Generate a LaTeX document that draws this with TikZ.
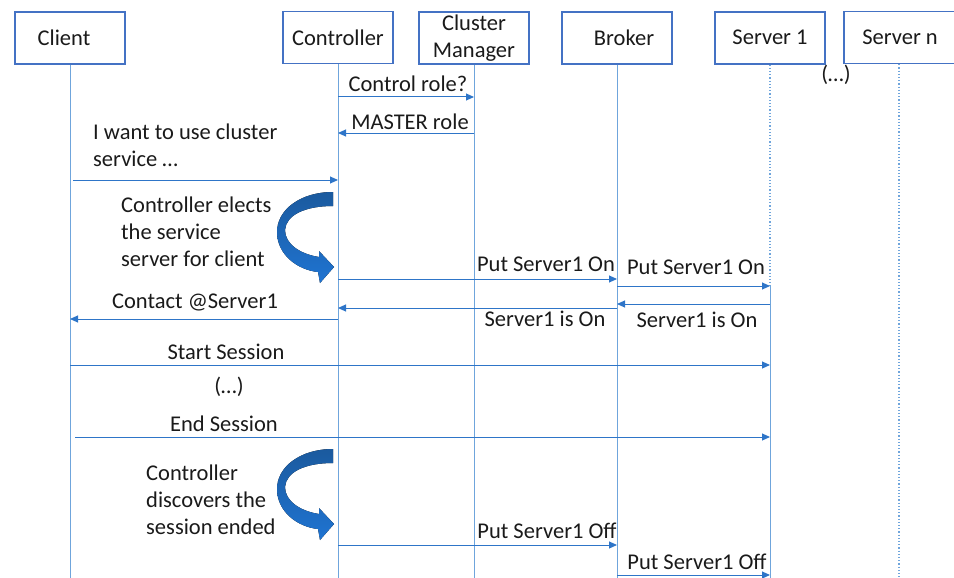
\documentclass[tikz,border=0pt]{standalone}
\usepackage{fontspec}
\setmainfont{Carlito}
\usetikzlibrary{arrows.meta}
\definecolor{boxblue}{HTML}{4472C4}
\definecolor{lifeblue}{HTML}{6FA5DC}
\definecolor{msgblue}{HTML}{2E75C8}
\definecolor{bendtop}{HTML}{1B5A9E}
\definecolor{bendbot}{HTML}{1F74D2}
\definecolor{inktext}{HTML}{1A1A1A}

\tikzset{
  bendarrow/.pic={
    \fill[top color=bendtop, bottom color=bendbot]
      (333,192) .. controls (300,192) and (277,210) .. (277,232)
      .. controls (277,255) and (298,270) .. (318,272)
      -- (320,283) -- (334,267) -- (319,251) -- (319,257)
      .. controls (300,254) and (285,244) .. (285,230)
      .. controls (286,215) and (305,206) .. (333,206) -- cycle;
  }
}

\begin{document}
\begin{tikzpicture}[x=1pt,y=-1pt,
  font=\fontsize{22.5}{27}\selectfont,
  actor/.style={draw=boxblue, line width=1.3pt, fill=white,
    minimum width=110pt, minimum height=52pt, inner sep=0pt,
    align=center, text=inktext},
  life/.style={lifeblue, line width=1pt},
  lifedot/.style={lifeblue, line width=1.2pt, dotted},
  msg/.style={msgblue, line width=1pt, -{Triangle[length=8pt,width=7pt]}},
  lbl/.style={inner sep=0pt, text=inktext},
  lbll/.style={inner sep=0pt, text=inktext, align=left, anchor=west}]

\useasboundingbox (0,0) rectangle (954,578);
\coordinate (bottom) at (0,578);

% participants
\node[actor] (client) at (70,38)  {Client\hspace*{12pt}};
\node[actor] (ctl)    at (338,37.5) {Controller};
\node[actor] (cm)     at (474,38) {Cluster\\Manager};
\node[actor] (broker) at (617,38) {\hspace*{14pt}Broker};
\node[actor] (s1)     at (770,38) {\raisebox{2pt}{Server 1}};
\node[actor, minimum width=116pt] (sn) at (902,37.5) {\raisebox{-3pt}{Server n}\hspace*{4pt}};
\node[lbl] (more) at (836,75) {(…)};

% lifelines
\draw[life] (client.south) -- (client.south |- bottom);
\draw[life] (ctl.south) -- (ctl.south |- bottom);
\draw[life] (cm.south) -- (cm.south |- bottom);
\draw[life] (broker.south) -- (broker.south |- bottom);
\coordinate (s1on) at (s1.south |- 0,286);
\draw[lifedot] (s1.south) -- (s1on);
\draw[life] (s1on) -- (s1.south |- bottom);
\coordinate (snlife) at ([xshift=-3pt]sn.south);
\draw[lifedot] (snlife) -- (snlife |- bottom);

% role negotiation
\draw[msg] (ctl.south |- 0,97) -- (cm.south |- 0,97);
\node[lbl] (m1) at (408,84) {Control role?};
\draw[msg] (cm.south |- 0,133) -- (ctl.south |- 0,133);
\node[lbl] (m2) at (410,122) {MASTER role};

% client request
\node[lbll] (m3) at (93,145) {I want to use cluster\\service …};
\draw[msg] ([xshift=3pt]client.south |- 0,180) -- (ctl.south |- 0,180);

% election
\node[lbll] (m4) at (121,232) {Controller elects\\the service\\server for client};
\pic at (0,0) {bendarrow};

\draw[msg] (ctl.south |- 0,279) -- (broker.south |- 0,279);
\node[lbl] (m5) at (546,264) {Put Server1 On};
\draw[msg] (broker.south |- 0,286) -- (s1on);
\node[lbl] (m6) at (696,267) {Put Server1 On};
\draw[msg] (s1.south |- 0,304) -- (broker.south |- 0,304);
\node[lbl] (m7) at (697,320) {Server1 is On};
\draw[msg] (broker.south |- 0,308) -- (ctl.south |- 0,308);
\node[lbl] (m8) at (545,319) {Server1 is On};
\draw[msg] (ctl.south |- 0,319) -- (client.south |- 0,319);
\node[lbl] (m9) at (195,302) {Contact @Server1};

% session
\draw[msg] (client.south |- 0,365) -- (s1.south |- 0,365);
\node[lbl] (m10) at (226,352) {Start Session};
\node[lbl] (m11) at (229,387) {(…)};
\draw[msg] ([xshift=5pt]client.south |- 0,437) -- (s1.south |- 0,437);
\node[lbl] (m12) at (224,424) {End Session};

% release
\node[lbll] (m13) at (146,500) {Controller\\discovers the\\session ended};
\pic at (0,257) {bendarrow};
\draw[msg] (ctl.south |- 0,545) -- (broker.south |- 0,545);
\node[lbl] (m14) at (547,531) {Put Server1 Off};
\draw[msg] (broker.south |- 0,575) -- (s1.south |- 0,575);
\node[lbl] (m15) at (697,562) {Put Server1 Off};

\end{tikzpicture}
\end{document}
